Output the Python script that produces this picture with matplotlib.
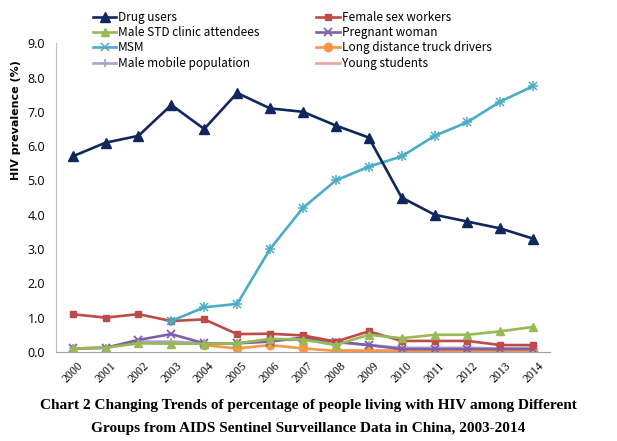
import matplotlib.pyplot as plt
import numpy as np

years = list(range(2000, 2015))
drug_users = [5.7, 6.1, 6.3, 7.2, 6.5, 7.55, 7.1, 7.0, 6.6, 6.25, 4.5, 4.0, 3.8, 3.6, 3.3]
female_sex_workers = [1.1, 1.0, 1.1, 0.9, 0.95, 0.52, 0.53, 0.48, 0.3, 0.6, 0.32, 0.32, 0.32, 0.2, 0.2]
male_std = [0.1, 0.12, 0.25, 0.24, 0.24, 0.25, 0.38, 0.36, 0.2, 0.5, 0.4, 0.5, 0.5, 0.6, 0.73]
pregnant_woman = [0.1, 0.12, 0.35, 0.52, 0.25, 0.25, 0.3, 0.42, 0.3, 0.2, 0.08, 0.08, 0.08, 0.08, 0.08]
msm_years = list(range(2003, 2015))
msm = [0.9, 1.3, 1.4, 3.0, 4.2, 5.0, 5.4, 5.7, 6.3, 6.7, 7.3, 7.75]
truck_years = list(range(2004, 2015))
truck_drivers = [0.2, 0.1, 0.2, 0.1, 0.03, 0.03, 0.03, 0.03, 0.03, 0.03, 0.03]
mobile_years = list(range(2000, 2015))
male_mobile = [0.1, 0.12, 0.3, 0.3, 0.25, 0.25, 0.35, 0.35, 0.28, 0.2, 0.12, 0.12, 0.12, 0.1, 0.12]
student_years = list(range(2008, 2015))
young_students = [0.05, 0.04, 0.04, 0.05, 0.05, 0.05, 0.05]
year_labels = [str(y) for y in years]

fig = plt.figure(figsize=(6.17, 4.41), dpi=100)
ax = fig.add_axes([0.091, 0.202, 0.80, 0.70])

x = np.arange(len(years))
def pos(yrs):
    return [y - 2000 for y in yrs]

lw = 1.9
h_mobile, = ax.plot(pos(mobile_years), male_mobile, color='#A5A5D0', marker='+', ms=6, lw=lw, mew=1.3, label='Male mobile population')
h_young, = ax.plot(pos(student_years), young_students, color='#E6A6A6', marker='_', ms=6, lw=lw, label='Young students')
h_truck, = ax.plot(pos(truck_years), truck_drivers, color='#F79646', marker='o', ms=6, lw=lw, label='Long distance truck drivers')
h_preg, = ax.plot(x, pregnant_woman, color='#7F60A8', marker='x', ms=6, lw=lw, mew=1.3, label='Pregnant woman')
h_fsw, = ax.plot(x, female_sex_workers, color='#BE4B48', marker='s', ms=5, lw=lw, label='Female sex workers')
h_std, = ax.plot(x, male_std, color='#98B954', marker='^', ms=6, lw=lw, label='Male STD clinic attendees')
h_msm, = ax.plot(pos(msm_years), msm, color='#4BACC6', marker='x', ms=6, lw=lw, mew=1.1, label='MSM')
ax.plot(pos(msm_years), msm, color='#4BACC6', marker='+', ms=7, lw=0, mew=1.1)
h_drug, = ax.plot(x, drug_users, color='#10275E', marker='^', ms=6.5, lw=lw, label='Drug users')

ax.set_xlim(-0.5, 14.5)
ax.set_ylim(0, 9)
ax.set_yticks(np.arange(0, 9.1, 1.0))
ax.set_yticklabels(['%.1f' % v for v in np.arange(0, 9.1, 1.0)], fontsize=9, family='Open Sans')
ax.set_xticks(x)
ax.set_xticklabels(year_labels, rotation=45, fontsize=8.5, family='Liberation Serif', ha='center')
ax.tick_params(axis='y', length=0, pad=8)
ax.tick_params(axis='x', length=0, pad=6)
for s in ['top', 'right']:
    ax.spines[s].set_visible(False)
ax.spines['left'].set_color('#BFBFBF')
ax.spines['bottom'].set_color('#A0A0A0')
ax.set_ylabel('HIV prevalence (%)', fontsize=8, fontweight='bold')
ax.yaxis.set_label_coords(-0.072, 0.75)

handles = [h_drug, h_std, h_msm, h_mobile, h_fsw, h_preg, h_truck, h_young]
fig.legend(handles=handles, labels=[h.get_label() for h in handles], ncol=2,
           loc='upper left', bbox_to_anchor=(0.135, 0.997), frameon=False,
           prop={'family': 'Noto Sans CJK SC', 'size': 8.5}, handlelength=2.0,
           handletextpad=0.15, labelspacing=0.2, columnspacing=4.8, borderpad=0.3)

fig.text(0.5, 0.072, 'Chart 2 Changing Trends of percentage of people living with HIV among Different',
         ha='center', fontsize=11, fontweight='bold', family='Liberation Serif')
fig.text(0.5, 0.02, 'Groups from AIDS Sentinel Surveillance Data in China, 2003-2014',
         ha='center', fontsize=11, fontweight='bold', family='Liberation Serif')

fig.savefig('out.png', dpi=100)
